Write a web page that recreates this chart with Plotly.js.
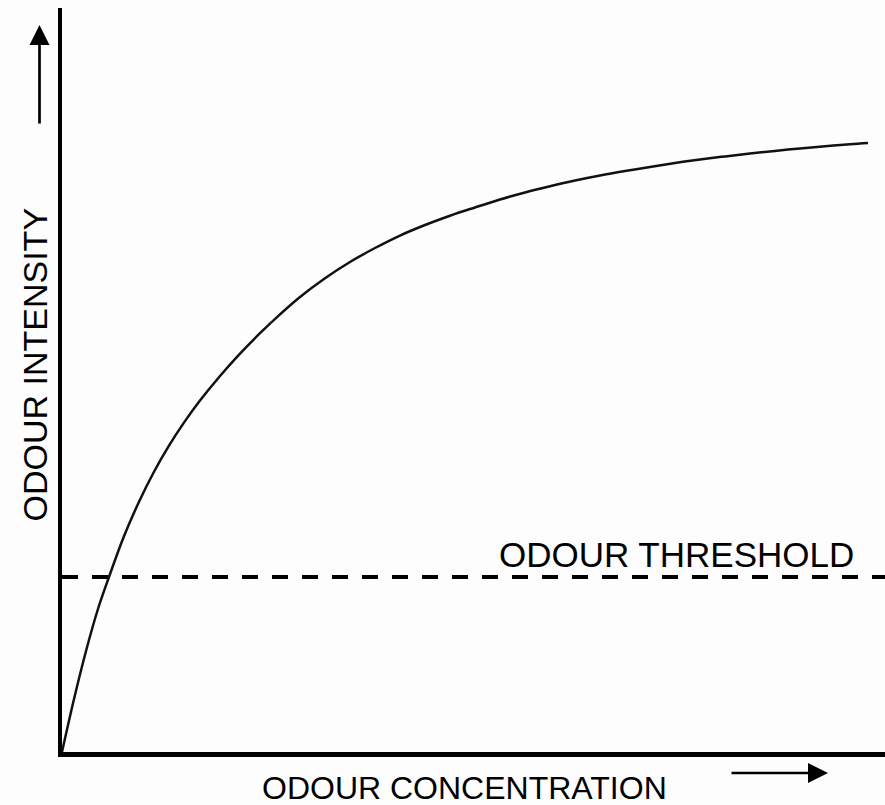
<!DOCTYPE html>
<html>
<head>
<meta charset="utf-8">
<script src="https://cdn.plot.ly/plotly-3.0.1.min.js"></script>
<style>html,body{margin:0;padding:0;background:#fdfdfd;}</style>
</head>
<body>
<div id="chart" style="width:885px;height:805px;"></div>
<script>
// Odour intensity response curve (arbitrary units)
const concentration = [0, 1.46, 2.92, 4.37, 5.71, 7.53, 9.36, 11.18, 13.00, 14.82, 16.65, 19.20, 21.63, 24.06, 26.49, 28.92, 31.96, 34.99, 38.03, 41.07, 44.11, 47.14, 50.18, 53.22, 56.26, 59.30, 62.33, 65.37, 68.41, 71.45, 74.48, 77.52, 80.56, 83.60, 86.63, 89.67, 92.71, 95.75, 97.93];
const intensity     = [0, 7.12, 13.58, 19.22, 23.52, 28.99, 33.64, 37.67, 41.18, 44.27, 47.07, 50.54, 53.55, 56.29, 58.82, 61.16, 63.68, 65.86, 67.74, 69.42, 70.83, 72.08, 73.19, 74.26, 75.20, 76.04, 76.81, 77.49, 78.09, 78.64, 79.17, 79.64, 80.05, 80.44, 80.79, 81.13, 81.42, 81.69, 81.85];
const thresholdX = [0, 100];
const thresholdY = [23.52, 23.52];

const labels = {
  x: "ODOUR CONCENTRATION",
  y: "ODOUR INTENSITY",
  threshold: "ODOUR THRESHOLD"
};

const FONT = "Liberation Sans, Arial, sans-serif";

const traces = [
  {
    x: thresholdX, y: thresholdY, mode: "lines", type: "scatter",
    line: {color: "#000", width: 4, dash: "16px,14px"},
    hoverinfo: "skip", showlegend: false
  },
  {
    x: concentration, y: intensity, mode: "lines", type: "scatter",
    line: {color: "#111", width: 2.5, shape: "spline", smoothing: 1},
    hoverinfo: "skip", showlegend: false
  }
];

const layout = {
  width: 885, height: 805,
  margin: {l: 62, r: 0, t: 8, b: 53},
  paper_bgcolor: "#fdfdfd", plot_bgcolor: "#fdfdfd",
  showlegend: false,
  xaxis: {range: [0, 100], showgrid: false, zeroline: false, showticklabels: false, ticks: "",
          showline: true, linecolor: "#000", linewidth: 4.5, fixedrange: true},
  yaxis: {range: [0, 100], showgrid: false, zeroline: false, showticklabels: false, ticks: "",
          showline: true, linecolor: "#000", linewidth: 4.5, fixedrange: true},
  annotations: [
    {text: labels.threshold, xref: "paper", yref: "paper", x: (676 - 62) / 823, y: (752 - 554.5) / 744,
     xanchor: "center", yanchor: "middle", showarrow: false,
     font: {family: FONT, size: 35, color: "#000"}},
    {text: labels.y, xref: "paper", yref: "paper", x: (34.5 - 62) / 823, y: (752 - 365) / 744,
     xanchor: "center", yanchor: "middle", textangle: -90, showarrow: false,
     font: {family: FONT, size: 34, color: "#000"}},
    {text: labels.x, xref: "paper", yref: "paper", x: (464 - 62) / 823, y: (752 - 788) / 744,
     xanchor: "center", yanchor: "middle", showarrow: false,
     font: {family: FONT, size: 32, color: "#000"}},
    {text: "", xref: "paper", yref: "paper", x: (39.5 - 62) / 823, y: (752 - 25) / 744,
     axref: "pixel", ayref: "pixel", ax: 0, ay: 100, showarrow: true,
     arrowhead: 2, arrowsize: 1.48, arrowwidth: 2.7, arrowcolor: "#000"},
    {text: "", xref: "paper", yref: "paper", x: (828 - 62) / 823, y: (752 - 773) / 744,
     axref: "pixel", ayref: "pixel", ax: -98, ay: 0, showarrow: true,
     arrowhead: 2, arrowsize: 1.48, arrowwidth: 2.7, arrowcolor: "#000"}
  ]
};

Plotly.newPlot("chart", traces, layout, {displayModeBar: false, staticPlot: true});
</script>
</body>
</html>
